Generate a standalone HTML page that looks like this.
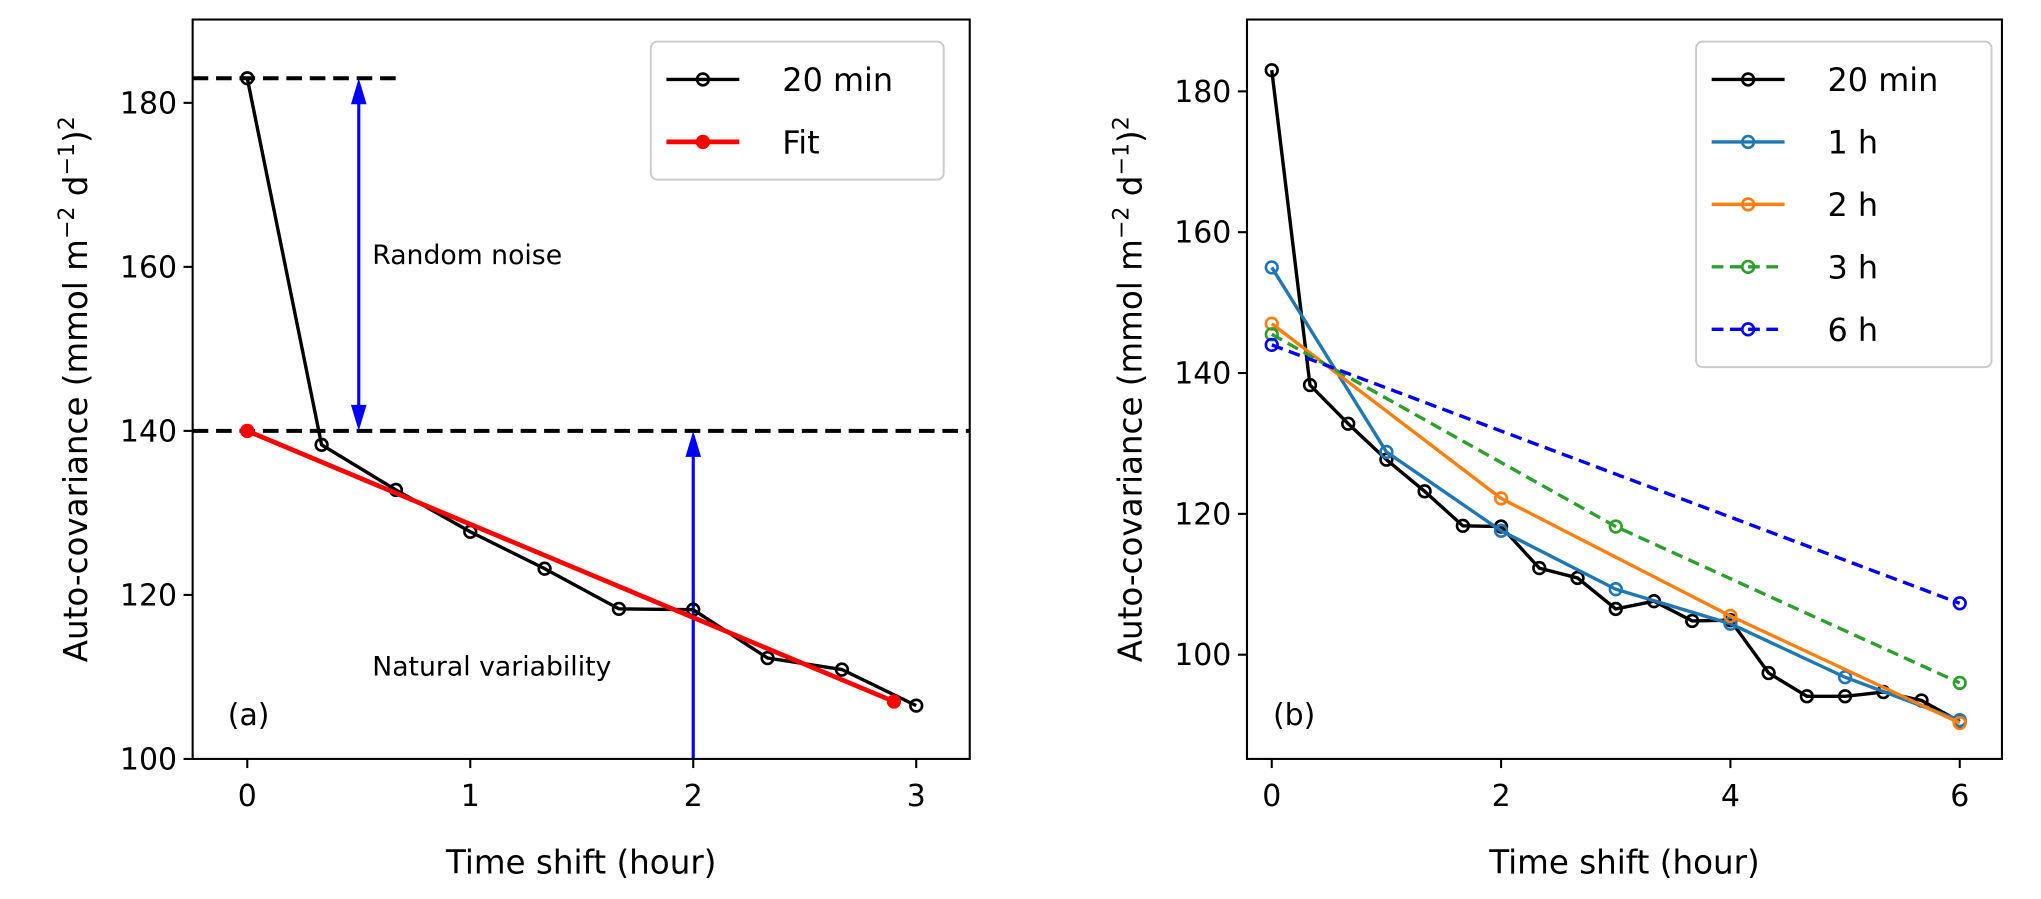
<!DOCTYPE html>
<html><head><meta charset="utf-8"><style>
html,body{margin:0;padding:0;background:#fff;width:2041px;height:899px;overflow:hidden}
svg{display:block;font-family:"DejaVu Sans","Liberation Sans",sans-serif}
</style></head><body>
<svg id="chart" width="2041" height="899" viewBox="0 0 1568 690.6" preserveAspectRatio="none" xmlns="http://www.w3.org/2000/svg">
<g id="pa"></g>
<g id="pb"></g>
</svg>
<script>
const x20 = [0,1/3,2/3,1,4/3,5/3,2,7/3,8/3,3,10/3,11/3,4,13/3,14/3,5,16/3,17/3,6];
const y20 = [183,138.3,132.8,127.7,123.2,118.3,118.2,112.3,110.9,106.5,107.6,104.8,104.9,97.4,94.1,94.1,94.7,93.5,90.5];
const x1h = [0,1,2,3,4,5,6];
const y1h = [155,128.8,117.6,109.3,104.4,96.8,90.7];
const x2h = [0,2,4,6];
const y2h = [147,122.2,105.5,90.3];
const x3h = [0,3,6];
const y3h = [145.5,118.2,96];
const x6h = [0,6];
const y6h = [144,107.3];
const fitX = [0,2.9];
const fitY = [140,107];
const ticksAx = [0,1,2,3];
const ticksAy = [100,120,140,160,180];
const ticksBx = [0,2,4,6];
const ticksBy = [100,120,140,160,180];

const NS="http://www.w3.org/2000/svg";
function mk(p,t,a,txt){const e=document.createElementNS(NS,t);for(const k in a)e.setAttribute(k,a[k]);if(txt!==undefined)e.textContent=txt;p.appendChild(e);return e;}

function panel(g,box,xr,yr,tx,ty,pfx){
  const sx=v=>box.x0+(v-xr[0])/(xr[1]-xr[0])*(box.x1-box.x0);
  const sy=v=>box.y1-(v-yr[0])/(yr[1]-yr[0])*(box.y1-box.y0);
  tx.forEach(t=>{
    const l=mk(g,'line',{x1:sx(t),x2:sx(t),y1:box.y1,y2:box.y1+7,stroke:'#000','stroke-width':1.6});
    
    
    const e=mk(g,'text',{x:sx(t),y:box.y1+36,'text-anchor':'middle','font-size':23},String(t));
    
    
  });
  ty.forEach(t=>{
    const l=mk(g,'line',{x1:box.x0-7,x2:box.x0,y1:sy(t),y2:sy(t),stroke:'#000','stroke-width':1.6});
    
    
    const e=mk(g,'text',{x:box.x0-12,y:sy(t)+8,'text-anchor':'end','font-size':23},String(t));
    
    
  });
  const xl=mk(g,'text',{x:(box.x0+box.x1)/2,y:box.y1+88,'text-anchor':'middle','font-size':25},'Time shift (hour)');
  
  
  const yl=mk(g,'text',{transform:`translate(${box.x0-81},${(box.y0+box.y1)/2}) rotate(-90)`,'text-anchor':'middle','font-size':25});
  yl.innerHTML='Auto-covariance (mmol m<tspan dy="-10" font-size="17">−2</tspan><tspan dy="10"> d</tspan><tspan dy="-10" font-size="17">−1</tspan><tspan dy="10">)</tspan><tspan dy="-10" font-size="17">2</tspan>';
  
  
  return {sx,sy};
}
function series(g,s,xs,ys,col,dash,filled,name,r,w){
  const pts=xs.map((x,i)=>s.sx(x)+','+s.sy(ys[i])).join(' ');
  const pl=mk(g,'polyline',{points:pts,fill:'none',stroke:col,'stroke-width':w||2.6,'stroke-dasharray':dash||'none'});
  
  
  xs.forEach((x,i)=>{
    const c=mk(g,'circle',{cx:s.sx(x),cy:s.sy(ys[i]),r:r||4.5,fill:filled?col:'none',stroke:col,'stroke-width':2});
    
    
  });
}
function head(g,x,y,dir,name){
  const b=y-dir*20;
  const p=mk(g,'polygon',{points:`${x},${y} ${x-6},${b} ${x+6},${b}`,fill:'#0000ff'});
  
  
}
function legend(g,x,y,w,items){
  const h=items.length*48+10;
  const r=mk(g,'rect',{x:x,y:y,width:w,height:h,rx:5,fill:'#fff',stroke:'#ccc','stroke-width':1.5});
  
  
  items.forEach((it,i)=>{
    const cy=y+29+i*48;
    const l=mk(g,'line',{x1:x+12,x2:x+68,y1:cy,y2:cy,stroke:it.c,'stroke-width':it.w||2.6,'stroke-dasharray':it.d||'none'});
    
    
    const c=mk(g,'circle',{cx:x+40,cy:cy,r:4.5,fill:it.f?it.c:'none',stroke:it.c,'stroke-width':2});
    
    
    const t=mk(g,'text',{x:x+101,y:cy+9,'font-size':24.5},it.t);
    
    
  });
}

// Panel A
const ga=document.getElementById('pa');
const boxA={x0:148,x1:745,y0:15,y1:583};
const A=panel(ga,boxA,[-0.245,3.24],[100,190.16],ticksAx,ticksAy,'panel-a');
let d=mk(ga,'line',{x1:boxA.x0,x2:A.sx(0.7),y1:A.sy(183),y2:A.sy(183),stroke:'#000','stroke-width':3,'stroke-dasharray':'12 6'});


d=mk(ga,'line',{x1:boxA.x0,x2:boxA.x1,y1:A.sy(140),y2:A.sy(140),stroke:'#000','stroke-width':3,'stroke-dasharray':'12 6'});


let ar=mk(ga,'line',{x1:A.sx(0.5),x2:A.sx(0.5),y1:A.sy(183)+15,y2:A.sy(140)-15,stroke:'#0000ff','stroke-width':2.4});


head(ga,A.sx(0.5),A.sy(183),-1,'random-noise-arrow-head-top');
head(ga,A.sx(0.5),A.sy(140),1,'random-noise-arrow-head-bottom');
ar=mk(ga,'line',{x1:A.sx(2),x2:A.sx(2),y1:A.sy(100),y2:A.sy(140)+15,stroke:'#0000ff','stroke-width':2.4});


head(ga,A.sx(2),A.sy(140),-1,'natural-variability-arrow-head');
series(ga,A,x20.slice(0,10),y20.slice(0,10),'#000',null,false,'a-20min');
series(ga,A,fitX,fitY,'#ff0000',null,true,'fit',4.5,3.6);
let t=mk(ga,'text',{x:286,y:203,'font-size':20.5},'Random noise');


t=mk(ga,'text',{x:286,y:519,'font-size':20.5},'Natural variability');


t=mk(ga,'text',{x:175,y:557,'font-size':23},'(a)');


let fr=mk(ga,'rect',{x:boxA.x0,y:boxA.y0,width:boxA.x1-boxA.x0,height:boxA.y1-boxA.y0,fill:'none',stroke:'#000','stroke-width':1.6});


legend(ga,500,32,225,[{c:'#000',t:'20 min'},{c:'#ff0000',t:'Fit',f:true,w:3.6}]);

// Panel B
const gb=document.getElementById('pb');
const boxB={x0:958,x1:1538,y0:15,y1:583};
const B=panel(gb,boxB,[-0.216,6.368],[85.2,190.2],ticksBx,ticksBy,'panel-b');
series(gb,B,x20,y20,'#000',null,false,'b-20min');
series(gb,B,x1h,y1h,'#1f77b4',null,false,'1h');
series(gb,B,x2h,y2h,'#ff7f0e',null,false,'2h');
series(gb,B,x3h,y3h,'#2ca02c','9 5',false,'3h');
series(gb,B,x6h,y6h,'#0000ff','9 5',false,'6h');
t=mk(gb,'text',{x:978,y:557,'font-size':23},'(b)');


fr=mk(gb,'rect',{x:boxB.x0,y:boxB.y0,width:boxB.x1-boxB.x0,height:boxB.y1-boxB.y0,fill:'none',stroke:'#000','stroke-width':1.6});


legend(gb,1303,32,227,[{c:'#000',t:'20 min'},{c:'#1f77b4',t:'1 h'},{c:'#ff7f0e',t:'2 h'},{c:'#2ca02c',t:'3 h',d:'9 5'},{c:'#0000ff',t:'6 h',d:'9 5'}]);
</script>
</body></html>
